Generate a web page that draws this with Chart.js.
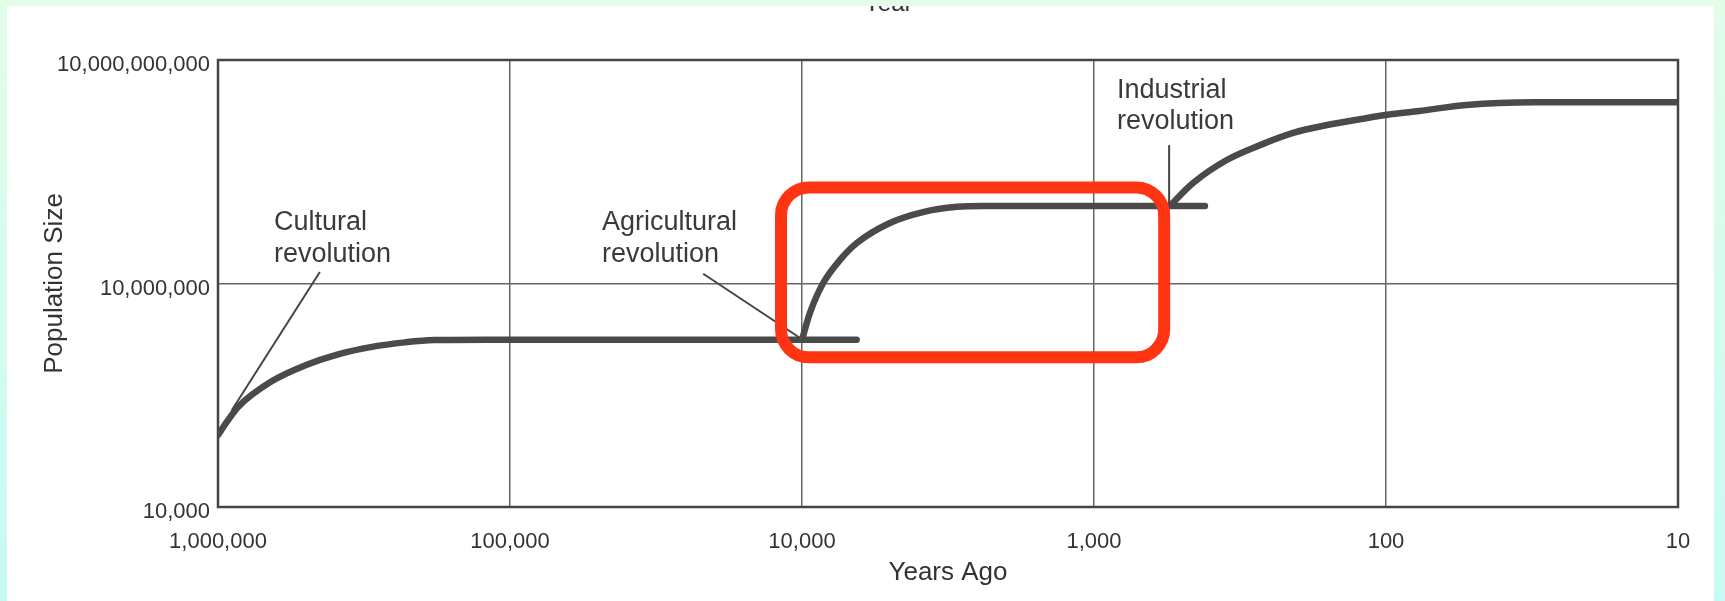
<!DOCTYPE html>
<html>
<head>
<meta charset="utf-8">
<script src="https://cdn.jsdelivr.net/npm/chart.js@4.4.1/dist/chart.umd.min.js"></script>
<style>
  html, body { margin: 0; padding: 0; }
  body {
    width: 1725px; height: 601px; overflow: hidden; position: relative;
    background: linear-gradient(to bottom, #e2fde8, #c6fbf5);
  }
  #panel { position: absolute; left: 7px; top: 6px; width: 1707px; height: 595px; background: #fff; }
  #year {
    position: absolute; left: 864px; top: -9px; font: 24px "Liberation Sans", Arial, sans-serif;
    line-height: 24px; color: #333;
  }
  #topstrip { position: absolute; left: 0; top: 0; width: 1725px; height: 6px; background: #e2fde8; }
  #chart { position: absolute; left: 0; top: 0; }
</style>
</head>
<body>
<div id="panel"></div>
<div id="year">Year</div>
<div id="topstrip"></div>
<canvas id="chart" width="1725" height="601"></canvas>
<script>
// Population size vs years ago (log-log)
const xTicks = [1000000, 100000, 10000, 1000, 100, 10];
const yTicks = [10000, 10000000, 10000000000];

// Cultural revolution curve
const culturalYears = [1000000, 925000, 855000, 653000, 504000, 388000, 297000, 229000, 182000, 120000, 6500];
const culturalPop = [92500, 145000, 219000, 490000, 794000, 1120000, 1410000, 1620000, 1740000, 1760000, 1760000];

// Agricultural revolution curve
const agriYears = [10000, 9400, 8480, 7410, 6490, 5000, 3850, 2950, 2400, 417];
const agriPop = [1760000, 4000000, 10000000, 20700000, 35000000, 65000000, 91000000, 107000000, 110000000, 110000000];

// Industrial revolution curve
const industYears = [550, 458, 351, 270, 208, 159, 123, 95, 77, 53, 31, 18.5, 10];
const industPop = [110000000, 223000000, 455000000, 720000000, 1050000000, 1340000000, 1600000000,
  1880000000, 2070000000, 2490000000, 2700000000, 2700000000, 2700000000];

// Annotations (anchored in data space)
const notes = [
  { lines: ['Cultural', 'revolution'], x: 643000, y: 65000000, gap: 32,
    pointer: [[448000, 14300000], [896000, 200000]] },
  { lines: ['Agricultural', 'revolution'], x: 48400, y: 65000000, gap: 32,
    pointer: [[21800, 13500000], [10240, 1900000]] },
  { lines: ['Industrial', 'revolution'], x: 834, y: 3950000000, gap: 31,
    pointer: [[553, 720000000], [553, 110000000]] }
];
const highlight = { x0: 11800, x1: 575, y0: 195000000, y1: 1020000 };

const FONT = '"Liberation Sans", Arial, sans-serif';
const INK = '#3a3a3a';

function zip(xs, ys) {
  return xs.map((x, i) => ({ x: x, y: ys[i] }));
}

function curve(label, xs, ys) {
  return {
    label: label,
    data: zip(xs, ys),
    borderColor: '#4a4a4a',
    borderWidth: 6.5,
    borderCapStyle: 'round',
    pointRadius: 0,
    cubicInterpolationMode: 'monotone',
    fill: false
  };
}

const overlay = {
  id: 'overlay',
  beforeDatasetsDraw(chart) {
    const { ctx, chartArea: a } = chart;
    ctx.save();
    ctx.strokeStyle = '#444';
    ctx.lineWidth = 2.5;
    ctx.strokeRect(a.left, a.top, a.right - a.left, a.bottom - a.top);
    ctx.restore();
  },
  afterDatasetsDraw(chart) {
    const { ctx, scales } = chart;
    const xs = scales.x, ys = scales.y;
    ctx.save();
    ctx.fillStyle = INK;
    ctx.strokeStyle = '#444';
    ctx.lineWidth = 2;
    ctx.font = '27px ' + FONT;
    ctx.textBaseline = 'middle';
    ctx.textAlign = 'left';
    notes.forEach(n => {
      const px = xs.getPixelForValue(n.x);
      const py = ys.getPixelForValue(n.y);
      n.lines.forEach((t, i) => ctx.fillText(t, px, py + i * n.gap));
      const p0 = n.pointer[0], p1 = n.pointer[1];
      ctx.beginPath();
      ctx.moveTo(xs.getPixelForValue(p0[0]), ys.getPixelForValue(p0[1]));
      ctx.lineTo(xs.getPixelForValue(p1[0]), ys.getPixelForValue(p1[1]));
      ctx.stroke();
    });
    ctx.restore();
  },
  afterDraw(chart) {
    const { ctx, scales } = chart;
    const l = scales.x.getPixelForValue(highlight.x0);
    const r = scales.x.getPixelForValue(highlight.x1);
    const t = scales.y.getPixelForValue(highlight.y0);
    const b = scales.y.getPixelForValue(highlight.y1);
    ctx.save();
    ctx.strokeStyle = '#ff3412';
    ctx.lineWidth = 12;
    ctx.beginPath();
    ctx.roundRect(l, t, r - l, b - t, 28);
    ctx.stroke();
    ctx.restore();
  }
};

new Chart(document.getElementById('chart'), {
  type: 'line',
  data: {
    datasets: [
      curve('Cultural revolution', culturalYears, culturalPop),
      curve('Agricultural revolution', agriYears, agriPop),
      curve('Industrial revolution', industYears, industPop)
    ]
  },
  options: {
    responsive: false,
    animation: false,
    devicePixelRatio: 1,
    layout: { padding: { left: 0, right: 47, top: 60, bottom: 0 } },
    plugins: {
      legend: { display: false },
      tooltip: { enabled: false }
    },
    scales: {
      x: {
        type: 'logarithmic',
        reverse: true,
        min: 10,
        max: 1000000,
        afterBuildTicks: s => { s.ticks = xTicks.map(v => ({ value: v })); },
        afterFit: s => { s.height = 94; },
        ticks: {
          callback: v => Number(v).toLocaleString('en-US'),
          font: { family: FONT, size: 22 },
          color: '#333',
          padding: 22,
          maxRotation: 0,
          autoSkip: false
        },
        grid: { color: '#666', lineWidth: 1.5, drawTicks: false },
        border: { display: false },
        title: {
          display: true,
          text: 'Years Ago',
          font: { family: FONT, size: 26 },
          color: '#333',
          padding: { top: 0, bottom: 13 }
        }
      },
      y: {
        type: 'logarithmic',
        min: 10000,
        max: 10000000000,
        afterBuildTicks: s => { s.ticks = yTicks.map(v => ({ value: v })); },
        afterFit: s => { s.width = 218; },
        ticks: {
          callback: v => Number(v).toLocaleString('en-US'),
          font: { family: FONT, size: 22 },
          color: '#333',
          padding: 8,
          labelOffset: 5,
          autoSkip: false
        },
        grid: { color: '#666', lineWidth: 1.5, drawTicks: false },
        border: { display: false },
        title: {
          display: true,
          text: 'Population Size',
          font: { family: FONT, size: 26 },
          color: '#333',
          padding: { top: 39, bottom: 0 }
        }
      }
    }
  },
  plugins: [overlay]
});
</script>
</body>
</html>
